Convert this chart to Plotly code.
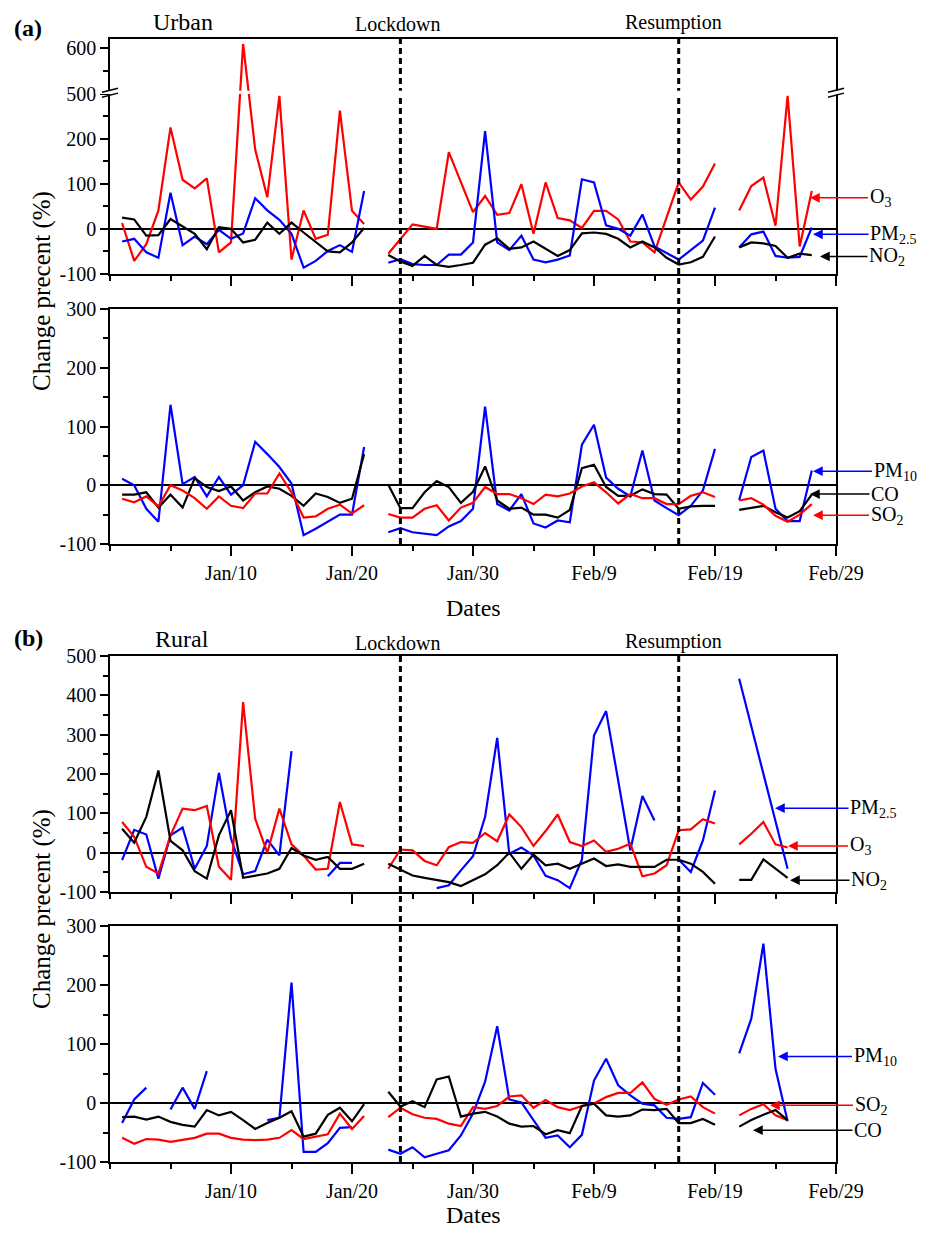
import pandas as pd
import plotly.graph_objects as go

# daily values, Jan 1 .. Feb 27 2020 (None = no data)
dates = pd.date_range("2020-01-01", periods=58, freq="D")

# ---- (a) Urban, upper panel
urban_o3 = [13, -71, -34, 41, 225, 109, 90, 112, -52, -30,
            610, 176, 70, 295, -68, 41, -22, -13, 262, 40,
            11, None, -55, -22, 10, 5, 0, 170, 105, 37,
            73, 31, 35, 99, -11, 103, 24, 19, 2, 40,
            40, 21, -28, -30, -52, 25, 103, 65, 94, 145,
            None, 41, 95, 114, 7, 295, -39, 84]
urban_pm25 = [-28, -22, -52, -64, 80, -36, -17, -34, -2, -22,
              -10, 68, 41, 20, -11, -86, -71, -49, -36, -51,
              84, None, -75, -67, -78, -80, -80, -57, -57, -30,
              217, -30, -47, -15, -68, -74, -68, -59, 110, 103,
              8, 0, -15, 32, -39, -54, -68, -47, -26, 47,
              None, -41, -12, -6, -60, -64, -62, 3]
urban_no2 = [25, 21, -15, -14, 22, 5, -11, -45, 4, 0,
             -30, -24, 14, -11, 14, -8, -30, -50, -52, -30,
             2, None, -58, -72, -82, -60, -80, -84, -80, -75,
             -35, -21, -44, -41, -28, -44, -60, -47, -10, -8,
             -11, -22, -41, -28, -41, -64, -79, -74, -62, -17,
             None, -41, -30, -32, -38, -64, -55, -58]

# ---- (a) Urban, lower panel
urban_pm10 = [11, 0, -40, -62, 137, 2, 14, -19, 14, -16,
              0, 74, 53, 31, 3, -85, -74, -62, -50, -50,
              65, None, -80, -73, -80, -83, -85, -70, -61, -40,
              134, -32, -43, -15, -65, -72, -60, -63, 69, 103,
              13, -6, -19, 59, -26, -39, -51, -35, -9, 62,
              None, -25, 48, 59, -40, -61, -61, 25]
urban_co = [-16, -16, -12, -38, -16, -38, 12, -3, -10, -2,
            -26, -12, -2, -6, -18, -35, -14, -20, -30, -23,
            53, None, 1, -39, -39, -12, 7, -3, -30, -11,
            32, -26, -40, -38, -50, -50, -55, -42, 29, 35,
            -3, -18, -18, -7, -15, -16, -40, -36, -35, -35,
            None, -42, -39, -35, -46, -55, -44, -16]
urban_so2 = [-23, -29, -19, -36, 0, -9, -22, -40, -19, -35,
             -39, -14, -14, 20, -12, -55, -53, -40, -33, -48,
             -34, None, -49, -55, -55, -40, -34, -60, -38, -30,
             -3, -15, -15, -22, -32, -16, -19, -14, -2, 5,
             -12, -31, -15, -22, -22, -32, -32, -18, -12, -20,
             None, -26, -22, -33, -52, -62, -50, -32]

# ---- (b) Rural, upper panel
rural_pm25 = [-19, 58, 46, -66, 44, 64, -41, 17, 203, 36,
              -55, -47, 33, -7, 258, None, None, -60, -26, -26,
              None, None, None, None, None, None, -90, -83, -45, -9,
              91, 292, -3, 13, -7, -59, -70, -90, -18, 298,
              360, 180, 6, 144, 82, None, -18, -49, 31, 158,
              None, 442, 320, 200, 78, -41, None, None]
rural_o3 = [78, 40, -36, -53, 44, 112, 108, 119, -36, -69,
            383, 86, 0, 112, 21, -7, -43, -41, 129, 21,
            17, None, -41, 8, 6, -21, -32, 14, 27, 25,
            50, 29, 97, 65, 17, 55, 97, 27, 17, 31,
            2, 10, 23, -60, -53, -32, 57, 59, 85, 74,
            None, 21, 48, 78, 21, 13, None, None]
rural_no2 = [61, 25, 91, 209, 30, 6, -47, -66, 44, 108,
             -64, -58, -53, -41, 12, -7, -18, -11, -41, -41,
             -28, None, -28, -43, -58, -64, -69, -75, -85, -70,
             -55, -32, 0, -41, -5, -32, -28, -41, -28, -15,
             -34, -30, -36, -36, -36, -18, -18, -28, -49, -79,
             None, -69, -69, -17, -41, -64, None, None]

# ---- (b) Rural, lower panel
rural_pm10 = [-34, 6, 26, None, -11, 26, -10, 54, None, None,
              None, None, -29, -25, 204, -83, -83, -68, -42, -41,
              None, None, -79, -86, -75, -92, -86, -80, -55, -18,
              36, 130, 6, 1, -29, -59, -55, -75, -54, 38,
              75, 30, 13, -1, -4, -25, -27, -24, 34, 14,
              None, 84, 143, 270, 58, -31, None, None]
rural_so2 = [-59, -69, -61, -62, -66, -62, -59, -52, -52, -59,
             -62, -63, -62, -59, -46, -61, -57, -53, -18, -44,
             -22, None, -24, -8, -19, -25, -27, -35, -39, -7,
             -10, -5, 11, 13, -8, 5, -7, -12, -5, -1,
             10, 17, 17, 35, 7, -3, 6, 11, -7, -18,
             None, -21, -10, -2, -21, -29, None, None]
rural_co = [-24, -23, -28, -23, -32, -37, -40, -12, -21, -15,
            -29, -44, -34, -25, -14, -57, -52, -20, -8, -31,
            -2, None, 19, -6, 3, -7, 40, 45, -23, -18,
            -15, -23, -35, -40, -39, -53, -46, -51, -5, -1,
            -21, -23, -21, -11, -12, -10, -34, -34, -27, -37,
            None, -40, -29, -20, -12, -29, None, None]

tick_dates = ["2020-01-10", "2020-01-20", "2020-01-30", "2020-02-09", "2020-02-19", "2020-02-29"]
tick_text = ["Jan/10", "Jan/20", "Jan/30", "Feb/9", "Feb/19", "Feb/29"]
lockdown = "2020-01-24"
resumption = "2020-02-16"

RED, BLUE, BLACK = "#FF0000", "#0000FF", "#000000"
FONT = "Liberation Serif"

# page geometry in screenshot px; the page body adds an 8px margin
PAGE_W, PAGE_H, BODY = 935, 1237, 8
PL, PR, PT, PB = 110, 836, 39, 1162        # plot area edges on the page
W, H = PAGE_W - 2 * BODY, PAGE_H - 2 * BODY
PW, PH = PR - PL, PB - PT


def px(x):
    return (x - PL) / PW


def py(y):
    return (PB - y) / PH


def squeeze(vals):
    # broken axis in (a) upper: 300..500 removed
    return [None if v is None else (v if v <= 300 else v - 200) for v in vals]


panels = [
    ("y", [(urban_o3, RED), (urban_pm25, BLUE), (urban_no2, BLACK)], True),
    ("y2", [(urban_pm10, BLUE), (urban_co, BLACK), (urban_so2, RED)], False),
    ("y3", [(rural_pm25, BLUE), (rural_o3, RED), (rural_no2, BLACK)], False),
    ("y4", [(rural_pm10, BLUE), (rural_so2, RED), (rural_co, BLACK)], False),
]

fig = go.Figure()
for i, (yax, series, broken) in enumerate(panels):
    xax = "x" if i == 0 else "x%d" % (i + 1)
    for vals, col in series:
        fig.add_trace(go.Scatter(x=dates, y=squeeze(vals) if broken else vals,
                                 mode="lines", line=dict(color=col, width=2.2),
                                 xaxis=xax, yaxis=yax, showlegend=False,
                                 connectgaps=False))

domains = [(py(274), py(39)), (py(544), py(309)), (py(892), py(656)), (py(1162), py(926))]
yranges = [[-100, 421], [-100, 300], [-100, 500], [-100, 300]]

xbase = dict(range=["2019-12-31", "2020-02-29"], type="date",
             tickmode="array", tickvals=tick_dates, ticktext=tick_text,
             ticks="outside", ticklen=10, tickwidth=1.5, tickcolor="black",
             minor=dict(ticks="outside", ticklen=5, tickwidth=1.5, tickcolor="black",
                        tick0="2020-01-05", dtick=5 * 86400000),
             showline=True, linecolor="black", linewidth=1.5, mirror=True,
             showgrid=False, zeroline=False,
             tickfont=dict(family=FONT, size=20, color="black"))

ybase = dict(ticks="outside", ticklen=8, tickwidth=1.5, tickcolor="black",
             minor=dict(ticks="outside", ticklen=5, tickwidth=1.5, tickcolor="black",
                        tick0=0, dtick=50),
             showline=True, linecolor="black", linewidth=1.5, mirror=True,
             showgrid=False, zeroline=True, zerolinecolor="black", zerolinewidth=1.5,
             tickfont=dict(family=FONT, size=20, color="black"), tickmode="array")

layout = dict(width=W, height=H, autosize=False,
              margin=dict(l=PL - BODY, r=W - (PR - BODY), t=PT - BODY, b=H - (PB - BODY)),
              paper_bgcolor="white", plot_bgcolor="white", showlegend=False)

for i in range(4):
    xk = "xaxis" if i == 0 else "xaxis%d" % (i + 1)
    yk = "yaxis" if i == 0 else "yaxis%d" % (i + 1)
    ya = "y" if i == 0 else "y%d" % (i + 1)
    layout[xk] = dict(xbase, anchor=ya, domain=[0, 1], showticklabels=(i % 2 == 1))
    yvals = list(range(yranges[i][0], yranges[i][1] + 1, 100))
    ytext = [str(v) for v in yvals]
    if i == 0:
        ytext = ["-100", "0", "100", "200", "500", "600"]
    layout[yk] = dict(ybase, anchor=("x" if i == 0 else "x%d" % (i + 1)),
                      domain=list(domains[i]), range=yranges[i],
                      tickvals=yvals, ticktext=ytext)

fig.update_layout(**layout)

# lockdown / resumption dashed lines across each panel pair
for y0, y1 in [(domains[1][0], domains[0][1]), (domains[3][0], domains[2][1])]:
    for d in (lockdown, resumption):
        fig.add_shape(type="line", xref="x", yref="paper", x0=d, x1=d, y0=y0, y1=y1,
                      line=dict(color="black", width=3, dash="6px,4px"), layer="above")

# axis break marks in (a) upper
fig.add_shape(type="rect", xref="paper", yref="y", x0=-0.02, x1=1.02, y0=299, y1=306,
              fillcolor="white", line=dict(width=0), layer="above")
for xb in (0, 1):
    for yb in (292, 303):
        fig.add_shape(type="line", xref="paper", yref="y", x0=xb - 0.011, x1=xb + 0.011,
                      y0=yb, y1=yb + 9, line=dict(color="black", width=1.5), layer="above")

ann = []


def text(x, y, s, size, angle=0):
    ann.append(dict(xref="paper", yref="paper", x=px(x), y=py(y), text=s,
                    showarrow=False, textangle=angle, xanchor="center", yanchor="middle",
                    font=dict(family=FONT, size=size, color="black")))


text(28, 28, "<b>(a)</b>", 24)
text(183, 22, "Urban", 24)
text(398, 24, "Lockdown", 20)
text(673, 23, "Resumption", 20)
text(28, 638, "<b>(b)</b>", 24)
text(182, 639, "Rural", 24)
text(398, 643, "Lockdown", 20)
text(673, 641, "Resumption", 20)
text(474, 608, "Dates", 24)
text(474, 1215, "Dates", 24)
text(42, 291, "Change precent (%)", 25, angle=-90)
text(42, 909, "Change precent (%)", 25, angle=-90)

labels = [
    ("y", 810, 69, 70, "O<sub>3</sub>", RED),
    ("y", 813, -12, 80, "PM<sub>2.5</sub>", BLUE),
    ("y", 820, -61, 67, "NO<sub>2</sub>", BLACK),
    ("y2", 813, 24, 82, "PM<sub>10</sub>", BLUE),
    ("y2", 810, -15, 75, "CO", BLACK),
    ("y2", 813, -51, 74, "SO<sub>2</sub>", RED),
    ("y3", 775, 113, 98, "PM<sub>2.5</sub>", BLUE),
    ("y3", 788, 17, 72, "O<sub>3</sub>", RED),
    ("y3", 790, -70, 79, "NO<sub>2</sub>", BLACK),
    ("y4", 778, 79, 97, "PM<sub>10</sub>", BLUE),
    ("y4", 770, -4, 101, "SO<sub>2</sub>", RED),
    ("y4", 753, -46, 115, "CO", BLACK),
]
for yref, xpx, yv, dx, s, col in labels:
    ann.append(dict(xref="paper", yref=yref, x=px(xpx), y=yv, text=s,
                    showarrow=True, ax=dx, ay=0, arrowhead=2, arrowsize=1.3,
                    arrowwidth=1.5, arrowcolor=col, standoff=0,
                    font=dict(family=FONT, size=20, color="black")))

fig.update_layout(annotations=ann)

fig.write_html("out.html")
